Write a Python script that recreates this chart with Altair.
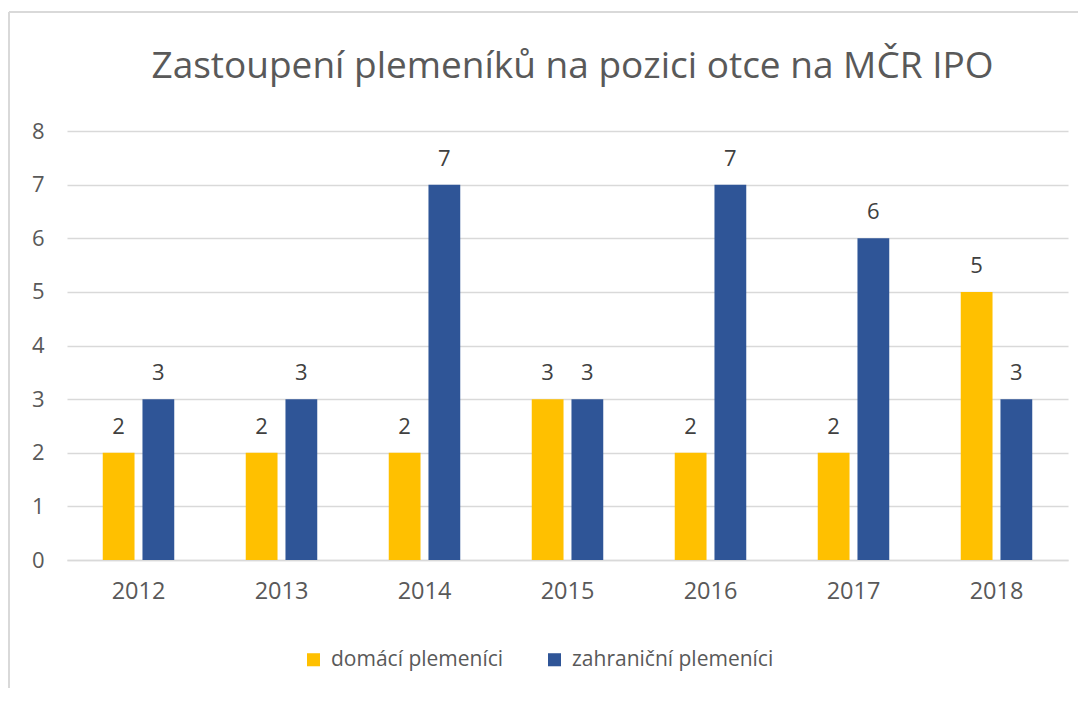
import altair as alt
import pandas as pd

years = ["2012", "2013", "2014", "2015", "2016", "2017", "2018"]
series_names = ["domácí plemeníci", "zahraniční plemeníci"]
domaci = [2, 2, 2, 3, 2, 2, 5]
zahranicni = [3, 3, 7, 3, 7, 6, 3]
colors = ["#FFC000", "#2F5597"]
y_ticks = [0, 1, 2, 3, 4, 5, 6, 7, 8]
title_text = "Zastoupení plemeníků na pozici otce na MČR IPO"

rows = []
for i, yr in enumerate(years):
    rows.append({"rok": yr, "skupina": series_names[0], "pocet": domaci[i]})
    rows.append({"rok": yr, "skupina": series_names[1], "pocet": zahranicni[i]})
df = pd.DataFrame(rows)

FONT = "Open Sans"
GRID = "#D9D9D9"
TXT = "#595959"

base = alt.Chart(df).encode(
    x=alt.X(
        "rok:N",
        sort=years,
        title=None,
        scale=alt.Scale(paddingInner=0.5, paddingOuter=0.25),
        axis=alt.Axis(
            labelAngle=0, ticks=False, domain=True, domainColor=GRID, domainWidth=1.5,
            labelFont=FONT, labelFontSize=23.5, labelColor=TXT, labelPadding=19, grid=False,
        ),
    ),
    xOffset=alt.XOffset("skupina:N", sort=series_names,
                        scale=alt.Scale(paddingInner=0.2, paddingOuter=0)),
    y=alt.Y(
        "pocet:Q",
        title=None,
        scale=alt.Scale(domain=[0, 8], nice=False),
        axis=alt.Axis(
            values=y_ticks, ticks=False, domain=False, grid=True, gridColor=GRID,
            gridWidth=1.5, labelFont=FONT, labelFontSize=22, labelColor=TXT,
            labelPadding=23, format="d",
        ),
    ),
)

bars = base.mark_bar().encode(
    color=alt.Color(
        "skupina:N",
        sort=series_names,
        scale=alt.Scale(domain=series_names, range=colors),
        legend=alt.Legend(
            title=None, orient="none", direction="horizontal", legendX=236, legendY=518,
            symbolType="square", symbolSize=170, symbolStrokeWidth=0,
            labelFont=FONT, labelFontSize=21, labelColor=TXT, columnPadding=40,
            labelOffset=7, labelLimit=0,
        ),
    )
)

labels = base.mark_text(baseline="bottom", dy=-14, font=FONT, fontSize=22, color="#404040").encode(
    text="pocet:Q"
)

border_top = alt.Chart(pd.DataFrame({"a": [0]})).mark_rule(color=GRID, strokeWidth=2).encode(
    x=alt.value(-58), x2=alt.value(1012), y=alt.value(-119)
)
border_left = alt.Chart(pd.DataFrame({"a": [0]})).mark_rule(color=GRID, strokeWidth=2).encode(
    x=alt.value(-58), y=alt.value(-119), y2=alt.value(560)
)

chart = alt.layer(border_top, border_left, bars, labels).properties(
    width=1001,
    height=429,
    autosize=alt.AutoSizeParams(type="none"),
    padding={"left": 59, "top": 123, "right": 10, "bottom": 128},
    title=alt.TitleParams(
        text=title_text, font=FONT, fontSize=37, fontWeight="normal", color=TXT,
        anchor="middle", offset=-75, dx=5,
    ),
).configure_view(stroke=None)

chart.save("out.html", embed_options={"renderer": "svg", "actions": False})
